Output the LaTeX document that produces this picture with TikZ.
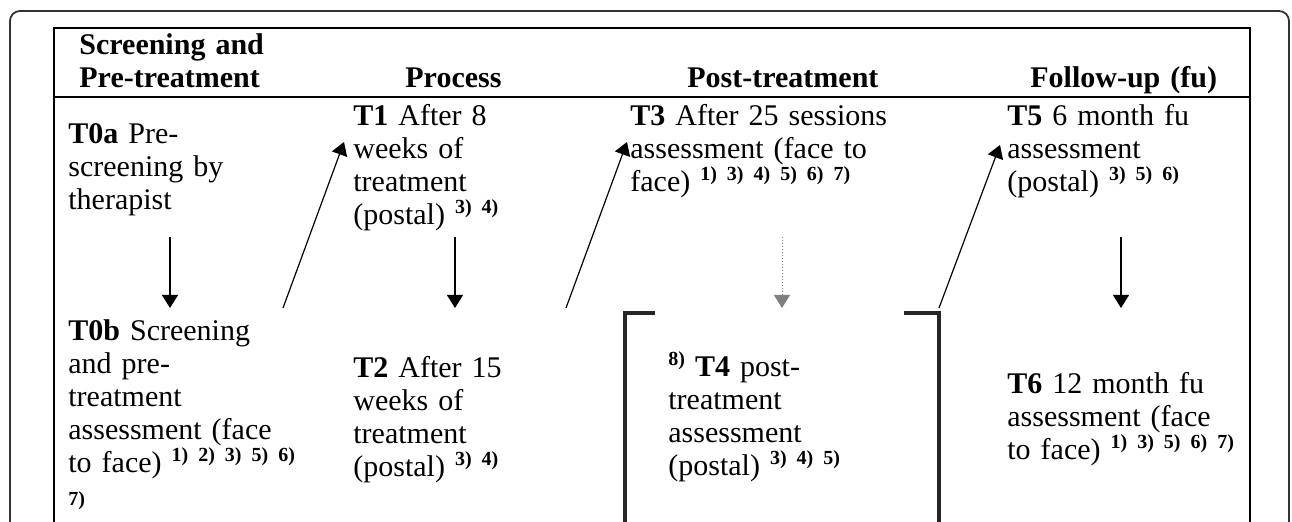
\documentclass[tikz,border=0pt]{standalone}
\usepackage{fontspec}
\setmainfont{Liberation Serif}
\usetikzlibrary{positioning, arrows.meta}

\newcommand{\bodysize}{\fontsize{15}{16.5}\selectfont}
\newcommand{\refsize}{\fontsize{10}{11}\selectfont\bfseries}
\newcommand{\refno}[1]{\raisebox{5.5pt}{\refsize #1}}

\begin{document}
\begin{tikzpicture}[x=0.5pt,y=-0.5pt,>={Triangle[length=6.5pt,width=8pt]},font=\bodysize]

	\tikzstyle{head}=[anchor=base west,inner sep=0pt,text width=120pt,align=left,font=\bodysize\bfseries]
	\tikzstyle{cell}=[anchor=base west,inner sep=0pt,text width=140pt,align=left]
	\tikzstyle{flow}=[->,line width=0.6pt]
	\tikzstyle{tableline}=[line width=1pt]
	\tikzstyle{bracket}=[line width=1.6pt,black!85]

	\useasboundingbox (0,0) rectangle (1292,522);

	% outer box and table
	\draw[line width=0.9pt,black!80,rounded corners=5pt] (10,522) -- (10,11) -- (1289,11) -- (1289,522);
	\draw[tableline] (54,522) -- (54,28) -- (1250,28) -- (1250,522);
	\draw[tableline] (54,97) -- (1250,97);

	% headers
	\node[head] (h0) at (79,55) {Screening and\\Pre-treatment};
	\node[head] (h1) at (405,88) {Process};
	\node[head] (h2) at (687,88) {Post-treatment};
	\node[head] (h3) at (1030,88) {Follow-up (fu)};

	% assessments
	\node[cell] (t0a) at (68,144) {\textbf{T0a} Pre-\\screening by\\therapist};
	\node[cell] (t0b) at (68,341) {\textbf{T0b} Screening\\and pre-\\treatment\\assessment (face\\to face) \refno{1) 2) 3) 5) 6)}\\{\refsize 7)}};
	\node[cell] (t1) at (353,126) {\textbf{T1} After 8\\weeks of\\treatment\\(postal) \refno{3) 4)}};
	\node[cell] (t2) at (353,378) {\textbf{T2} After 15\\weeks of\\treatment\\(postal) \refno{3) 4)}};
	\node[cell] (t3) at (630,126) {\textbf{T3} After 25 sessions\\assessment (face to\\face) \refno{1) 3) 4) 5) 6) 7)}};
	\node[cell] (t4) at (668,377) {\refno{8)} \textbf{T4} post-\\treatment\\assessment\\(postal) \refno{3) 4) 5)}};
	\node[cell] (t5) at (1007,126) {\textbf{T5} 6 month fu\\assessment\\(postal) \refno{3) 5) 6)}};
	\node[cell] (t6) at (1007,394) {\textbf{T6} 12 month fu\\assessment (face\\to face) \refno{1) 3) 5) 6) 7)}};

	% bracket round T4
	\draw[bracket] (655,313) -- (625,313) -- (625,522);
	\draw[bracket] (904,313) -- (939,313) -- (939,522);

	% arrow ends
	\coordinate (a0s) at (170,237);
	\coordinate (a0e) at (170,308);
	\coordinate (d1s) at (283,308);
	\coordinate (d1e) at (344,142);
	\coordinate (a1s) at (455,237);
	\coordinate (a1e) at (455,308);
	\coordinate (d2s) at (566,308);
	\coordinate (d2e) at (627,142);
	\coordinate (a2s) at (782,237);
	\coordinate (a2e) at (782,308);
	\coordinate (d3s) at (939,308);
	\coordinate (d3e) at (1000,145);
	\coordinate (a3s) at (1121,237);
	\coordinate (a3e) at (1121,308);

	\draw[flow] (a0s) -- (a0e);
	\draw[flow] (d1s) -- (d1e);
	\draw[flow] (a1s) -- (a1e);
	\draw[flow] (d2s) -- (d2e);
	\draw[->,line width=0.5pt,densely dotted,gray] (a2s) -- (a2e);
	\draw[flow] (d3s) -- (d3e);
	\draw[flow] (a3s) -- (a3e);
\end{tikzpicture}
\end{document}
